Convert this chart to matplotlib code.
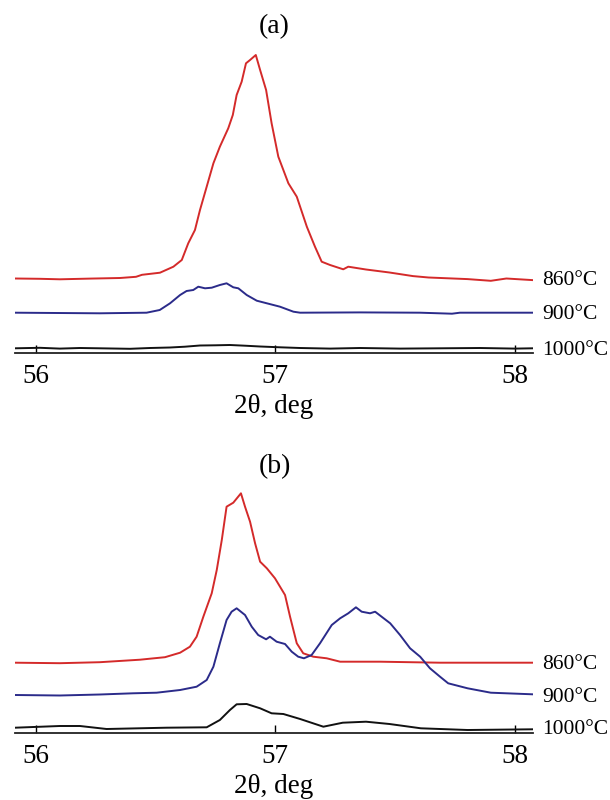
import numpy as np
import matplotlib
matplotlib.use("Agg")
import matplotlib.pyplot as plt

plt.rcParams['font.family'] = ['Liberation Serif', 'DejaVu Serif']

# ---- (a) traces: 2theta (deg) and intensity above each baseline
a_red_x = [55.913, 56.018, 56.101, 56.227, 56.352, 56.419, 56.444, 56.519, 56.575, 56.610,
           56.637, 56.665, 56.686, 56.714, 56.742, 56.769, 56.804, 56.823, 56.839, 56.860,
           56.878, 56.895, 56.919, 56.937, 56.962, 56.985, 57.013, 57.055, 57.090, 57.132,
           57.166, 57.194, 57.229, 57.284, 57.305, 57.379, 57.477, 57.575, 57.640, 57.803,
           57.900, 57.965, 58.074]
a_red_y = [-0.2, -0.5, -1.0, -0.3, 0.3, 1.5, 3.5, 5.6, 11.6, 18.3,
           35.0, 48.3, 68.3, 91.6, 115.0, 131.6, 150.0, 163.3, 183.3, 196.6,
           215.0, 218.3, 223.3, 208.3, 188.3, 155.0, 121.6, 95.0, 81.6, 51.6,
           31.6, 16.6, 13.3, 9.0, 11.6, 8.8, 5.8, 2.2, 0.8, -0.8,
           -2.5, -0.2, -1.8]

a_blue_x = [55.914, 56.268, 56.463, 56.518, 56.561, 56.603, 56.630, 56.658, 56.679, 56.707,
            56.735, 56.769, 56.797, 56.825, 56.846, 56.881, 56.923, 56.965, 57.020, 57.076,
            57.104, 57.354, 57.605, 57.738, 57.771, 58.074]
a_blue_y = [0, -0.6, 0, 2.7, 9.4, 17.7, 21.7, 22.7, 26.0, 24.4,
            25.0, 27.7, 29.4, 25.4, 24.4, 17.7, 12.0, 9.4, 6.0, 1.0,
            0, 0.3, 0, -1.0, 0, 0]

a_black_x = [55.914, 56.018, 56.101, 56.185, 56.268, 56.394, 56.477, 56.561, 56.623, 56.686,
             56.749, 56.811, 56.874, 56.937, 57.020, 57.104, 57.229, 57.354, 57.521, 57.688,
             57.855, 58.001, 58.074]
a_black_y = [0, 0.5, -0.3, 0.3, 0, -0.5, 0.3, 0.8, 1.6, 2.8,
             3.0, 3.3, 2.6, 1.8, 1.0, 0.3, -0.3, 0.3, -0.3, 0,
             0.3, -0.3, 0]

# ---- (b) traces
b_red_x = [55.914, 56.101, 56.268, 56.436, 56.477, 56.540, 56.603, 56.644, 56.672, 56.700,
           56.735, 56.756, 56.777, 56.797, 56.825, 56.857, 56.874, 56.895, 56.916, 56.937,
           56.965, 56.999, 57.041, 57.062, 57.090, 57.117, 57.159, 57.215, 57.271, 57.438,
           57.688, 57.939, 58.074]
b_red_y = [0, -0.5, 0.5, 3, 4, 5.5, 10, 16, 26, 46,
           69.4, 92.7, 122.7, 156, 160, 169.4, 156, 141, 119.4, 101,
           94.4, 84.4, 67.7, 46, 19.4, 9.4, 6, 4.4, 1, 1,
           0, 0, 0]

b_blue_x = [55.914, 56.101, 56.268, 56.406, 56.505, 56.603, 56.672, 56.714, 56.742, 56.769,
            56.797, 56.818, 56.839, 56.874, 56.902, 56.929, 56.962, 56.978, 57.006, 57.041,
            57.069, 57.096, 57.120, 57.152, 57.187, 57.236, 57.271, 57.305, 57.337, 57.361,
            57.396, 57.417, 57.480, 57.521, 57.563, 57.605, 57.646, 57.688, 57.722, 57.803,
            57.900, 58.074]
b_blue_y = [0, -0.5, 0.5, 1.7, 2.3, 5, 8.3, 15, 28.3, 51.7,
            75, 83.3, 86.7, 80, 68.3, 60, 55.7, 58.3, 53.3, 51,
            43.3, 38.3, 36.7, 40, 51.7, 70, 76.7, 81.7, 87.7, 83.3,
            81.7, 83.3, 71.7, 60, 46.7, 38.3, 26.7, 18.3, 11.7, 6.7,
            2.3, 0.7]

b_black_x = [55.914, 56.101, 56.185, 56.296, 56.547, 56.714, 56.769, 56.811, 56.839, 56.881,
             56.937, 56.985, 57.034, 57.104, 57.201, 57.282, 57.379, 57.477, 57.608, 57.803,
             58.074]
b_black_y = [0, 1.7, 1.7, -1.3, 0, 0.4, 7.7, 17.7, 23.4, 23.7,
             19.4, 14.4, 13.7, 8.7, 1, 5, 6, 3.7, -0.6, -2.3,
             -1.6]

temps = ['860°C', '900°C', '1000°C']
colors = ['#d42a2a', '#2b2b8a', '#111111']

# vertical shift of each trace
a_offsets = [74.4, 40.0, 4.4]
b_offsets = [70.0, 37.7, 5.0]

W, H = 610, 800
fig = plt.figure(figsize=(W / 100, H / 100), dpi=100)


def make_panel(bottom_px, top_px, traces, offsets, tag):
    left, right = 14.8, 532.5
    ax = fig.add_axes([left / W, 1 - bottom_px / H, (right - left) / W, (bottom_px - top_px) / H])
    for (x, y), off, c, t in zip(traces, offsets, colors, temps):
        ax.plot(x, np.array(y) + off, color=c, lw=1.4)
        ax.text(1.018, off - 2, t, transform=ax.get_yaxis_transform(), ha='left', va='center',
                fontsize=15.5, clip_on=False)
    ax.set_xlim(55.913, 58.074)
    ax.set_ylim(0, bottom_px - top_px)
    for s in ['top', 'left', 'right']:
        ax.spines[s].set_visible(False)
    ax.spines['bottom'].set_linewidth(1.3)
    ax.spines['bottom'].set_color('#222222')
    ax.set_yticks([])
    ax.set_xticks([56, 57, 58])
    ax.tick_params(axis='x', direction='in', length=6, width=1, pad=8, labelsize=19.5)
    ax.set_xlabel('2θ, deg', fontsize=19.5, labelpad=4)
    fig.text(274.5 / W, 1 - (top_px - 13) / H, tag, ha='center', va='center', fontsize=20)
    return ax


make_panel(352.7, 40, [(a_red_x, a_red_y), (a_blue_x, a_blue_y), (a_black_x, a_black_y)],
           a_offsets, '(a)')
make_panel(732.7, 480, [(b_red_x, b_red_y), (b_blue_x, b_blue_y), (b_black_x, b_black_y)],
           b_offsets, '(b)')

fig.savefig('out.png', dpi=100)
